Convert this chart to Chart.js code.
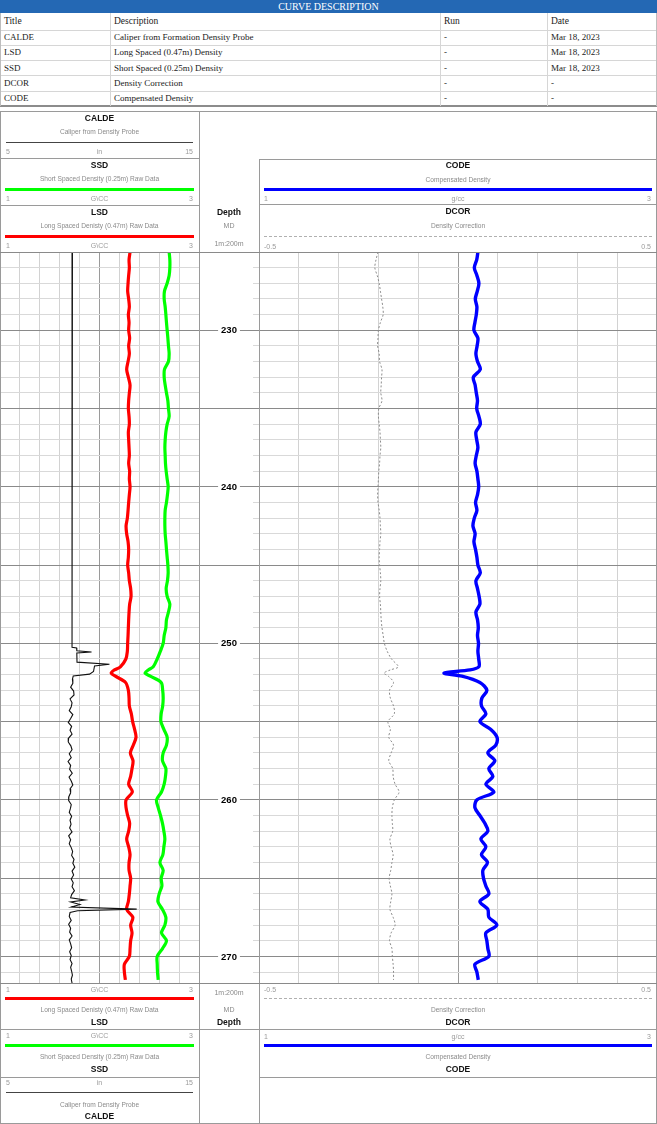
<!DOCTYPE html>
<html>
<head>
<meta charset="utf-8">
<script src="https://cdn.jsdelivr.net/npm/chart.js@4.4.1/dist/chart.umd.min.js"></script>
<style>
  html,body{margin:0;padding:0;background:#fff}
  body{width:657px;height:1124px;position:relative;overflow:hidden;font-family:"Liberation Sans",Arial,sans-serif}
  .a{position:absolute;box-sizing:border-box}
  .t{position:absolute;white-space:nowrap}
  canvas{position:absolute}
</style>
</head>
<body>
<canvas id="cLeft" width="199" height="731" style="left:0;top:252px"></canvas>
<canvas id="cDepth" width="60" height="731" style="left:199px;top:252px"></canvas>
<canvas id="cRight" width="404" height="731" style="left:253px;top:252px"></canvas>
<script>
// ---------------- DATA ----------------
const tableTitles = ["CALDE","LSD","SSD","DCOR","CODE"];
const tableDescriptions = ["Caliper from Formation Density Probe","Long Spaced (0.47m) Density","Short Spaced (0.25m) Density","Density Correction","Compensated Density"];
const tableRuns = ["-","-","-","-","-"];
const tableDates = ["Mar 18, 2023","Mar 18, 2023","Mar 18, 2023","-","-"];

const depthMin = 225, depthMax = 271.7;
const depthLabels = [230,240,250,260,270];

const depth = [225,225.5,226,226.5,227,227.5,228,228.5,229,229.5,
230,230.5,231,231.5,232,232.5,233,233.5,234,234.5,
235,235.5,236,236.5,237,237.5,238,238.5,239,239.5,
240,240.5,241,241.5,242,242.5,243,243.5,244,244.5,
245,245.5,246,246.5,247,247.5,248,248.5,249,249.5,
250,250.5,251,251.5,251.7,251.9,252.1,252.5,253,253.5,254,254.5,
255,255.5,256,256.5,257,257.5,258,258.5,259,259.5,
260,260.5,261,261.5,262,262.5,263,263.5,264,264.5,
265,265.5,266,266.5,267,267.5,268,268.5,269,269.5,
270,270.5,271,271.5];

const lsd = [2.307,2.297,2.300,2.293,2.287,2.283,2.293,2.300,2.290,2.297,
2.293,2.303,2.293,2.300,2.287,2.273,2.290,2.307,2.300,2.293,
2.290,2.297,2.300,2.290,2.293,2.297,2.300,2.293,2.303,2.300,
2.307,2.300,2.293,2.287,2.280,2.267,2.273,2.287,2.293,2.290,
2.283,2.293,2.300,2.313,2.317,2.303,2.297,2.293,2.290,2.287,
2.283,2.280,2.265,2.210,2.150,2.117,2.160,2.262,2.290,2.297,2.300,2.320,
2.333,2.353,2.367,2.340,2.310,2.337,2.327,2.313,2.293,2.330,
2.267,2.267,2.283,2.303,2.293,2.273,2.293,2.307,2.297,2.297,
2.313,2.307,2.300,2.290,2.273,2.335,2.313,2.327,2.313,2.307,
2.300,2.250,2.250,2.260];

const ssd = [2.700,2.707,2.707,2.700,2.680,2.653,2.650,2.660,2.667,2.673,
2.680,2.687,2.693,2.700,2.693,2.653,2.650,2.660,2.673,2.687,
2.693,2.700,2.680,2.667,2.660,2.657,2.660,2.663,2.670,2.680,
2.690,2.683,2.673,2.660,2.657,2.657,2.660,2.667,2.673,2.680,
2.687,2.690,2.683,2.670,2.680,2.707,2.693,2.673,2.667,2.650,
2.640,2.612,2.580,2.540,2.490,2.457,2.510,2.620,2.635,2.640,2.635,2.620,
2.617,2.647,2.680,2.673,2.640,2.633,2.667,2.663,2.650,2.623,
2.573,2.590,2.613,2.633,2.647,2.657,2.647,2.637,2.607,2.640,
2.620,2.627,2.600,2.587,2.633,2.667,2.657,2.623,2.673,2.633,
2.580,2.580,2.583,2.590];

const dcor = [-0.201,-0.206,-0.209,-0.203,-0.198,-0.195,-0.192,-0.189,-0.188,-0.195,
-0.200,-0.201,-0.202,-0.198,-0.197,-0.191,-0.192,-0.193,-0.194,-0.191,
-0.199,-0.200,-0.198,-0.196,-0.195,-0.194,-0.196,-0.197,-0.199,-0.200,
-0.201,-0.202,-0.201,-0.198,-0.196,-0.195,-0.194,-0.196,-0.197,-0.198,
-0.197,-0.195,-0.194,-0.196,-0.197,-0.195,-0.194,-0.193,-0.191,-0.188,
-0.185,-0.178,-0.167,-0.150,-0.170,-0.186,-0.175,-0.162,-0.172,-0.170,-0.162,-0.160,
-0.176,-0.170,-0.174,-0.162,-0.168,-0.174,-0.164,-0.163,-0.158,-0.148,
-0.160,-0.165,-0.166,-0.165,-0.164,-0.171,-0.168,-0.163,-0.166,-0.169,
-0.173,-0.170,-0.166,-0.169,-0.171,-0.163,-0.158,-0.168,-0.172,-0.166,
-0.165,-0.163,-0.162,-0.162];

const code = [2.100,2.094,2.082,2.095,2.105,2.097,2.087,2.095,2.092,2.085,
2.080,2.100,2.096,2.090,2.098,2.112,2.077,2.086,2.092,2.098,
2.094,2.105,2.112,2.090,2.094,2.100,2.092,2.086,2.095,2.100,
2.104,2.098,2.088,2.095,2.082,2.075,2.086,2.080,2.088,2.095,
2.100,2.112,2.090,2.098,2.106,2.110,2.090,2.098,2.102,2.098,
2.103,2.100,2.104,2.105,2.060,1.930,2.020,2.110,2.145,2.120,2.118,2.140,
2.110,2.165,2.196,2.190,2.150,2.185,2.155,2.175,2.140,2.180,
2.095,2.085,2.110,2.135,2.150,2.115,2.140,2.118,2.148,2.125,
2.128,2.140,2.155,2.110,2.150,2.155,2.195,2.140,2.145,2.150,
2.155,2.085,2.095,2.102];

const caldeDepth = [225,225.8,250.25,250.3,250.48,250.55,250.62,251.2,251.34,251.45,251.8,251.97,252.08,
252.3,252.55,252.8,253.05,253.3,253.55,253.8,254.05,254.3,254.55,254.8,
255.05,255.3,255.55,255.8,256.05,256.3,256.55,256.8,257.05,257.3,257.55,257.8,
258.05,258.3,258.55,258.8,259.05,259.3,259.55,259.8,260.05,260.3,260.55,260.8,
261.05,261.3,261.55,261.8,262.05,262.3,262.55,262.8,263.05,263.3,263.55,263.8,
264.05,264.3,264.55,264.8,265.05,265.3,265.55,265.8,266.05,266.25,266.4,266.52,
266.68,266.85,266.98,267.08,267.2,267.45,267.7,267.95,268.2,268.45,268.7,268.95,
269.2,269.45,269.7,269.95,270.2,270.45,270.7,270.95,271.2,271.45,271.7];
const calde = [8.64,8.62,8.62,8.85,8.86,9.60,8.86,8.87,10.50,9.75,9.70,9.50,8.68,
8.64,8.66,8.55,8.70,8.72,8.52,8.62,8.58,8.48,8.66,8.55,
8.43,8.60,8.52,8.62,8.45,8.43,8.56,8.62,8.48,8.58,8.42,8.55,
8.50,8.63,8.47,8.58,8.66,8.52,8.55,8.46,8.45,8.58,8.54,8.48,
8.60,8.52,8.57,8.50,8.62,8.45,8.55,8.48,8.58,8.65,8.60,8.72,
8.66,8.76,8.62,8.70,8.58,8.68,8.62,8.74,8.60,8.55,9.27,8.55,
9.02,8.58,11.87,8.90,8.52,8.48,8.58,8.45,8.55,8.50,8.62,8.48,
8.55,8.60,8.50,8.58,8.52,8.62,8.55,8.60,8.64,8.58,8.62];

// ---------------- HEADER / TABLE ----------------
const B = document.body;
function el(css, html){ const d=document.createElement('div'); d.className='a'; d.style.cssText=css; if(html!==undefined) d.innerHTML=html; B.appendChild(d); return d; }
function hline(x1,x2,y,color,w){ el(`left:${x1}px;top:${y}px;width:${x2-x1}px;height:${w||1}px;background:${color||'#999'}`); }
function vline(x,y1,y2,color,w){ el(`left:${x}px;top:${y1}px;width:${w||1}px;height:${y2-y1}px;background:${color||'#999'}`); }
function dline(x1,x2,y){ el(`left:${x1}px;top:${y}px;width:${x2-x1}px;height:0;border-top:1px dashed #b0b0b0`); }
function txt(s, x, cy, size, opts){
  opts=opts||{};
  const d=document.createElement('div'); d.className='t';
  const lh=Math.round(size*1.3);
  let css=`top:${cy-lh/2}px;line-height:${lh}px;font-size:${size}px;color:${opts.color||'#8a8a8a'};`;
  if(opts.bold) css+='font-weight:bold;';
  if(opts.font) css+=`font-family:${opts.font};`;
  if(opts.align==='left') css+=`left:${x}px;`;
  else if(opts.align==='right') css+=`left:${x-200}px;width:200px;text-align:right;`;
  else css+=`left:${x-150}px;width:300px;text-align:center;`;
  d.style.cssText=css; d.textContent=s; B.appendChild(d);
}

// table
el('left:0;top:0;width:657px;height:13px;background:#2468b4');
txt('CURVE DESCRIPTION', 328.5, 6.8, 10, {color:'#fff', font:'"Liberation Serif",serif'});
const colX=[0,110,440,547], rowTop=[13,29.5,44.8,60.1,75.4,90.7,106];
const serif='"Liberation Serif","Times New Roman",serif';
const header=['Title','Description','Run','Date'];
for(let c=0;c<4;c++) txt(header[c], colX[c]+4, (rowTop[0]+rowTop[1])/2, 9.5, {align:'left',color:'#222',font:serif});
for(let r=0;r<5;r++){
  const cy=(rowTop[r+1]+rowTop[r+2])/2;
  const cells=[tableTitles[r],tableDescriptions[r],tableRuns[r],tableDates[r]];
  for(let c=0;c<4;c++) txt(cells[c], colX[c]+4, cy, 9, {align:'left',color:'#222',font:serif});
}
for(let r=1;r<6;r++) hline(0,657,rowTop[r],'#d6d6d6');
hline(0,657,105,'#8c8c8c',1.5);
for(let c=1;c<4;c++) vline(colX[c],13,106,'#d6d6d6');
vline(0,13,106,'#bdbdbd'); vline(656,13,106,'#bdbdbd');

// log frame
const G='#9a9a9a';
hline(0,657,111,G);
vline(0,111,1124,G); vline(199,111,1124,G); vline(259,159,1124,G); vline(656,111,1124,G);
hline(0,199,158,G); hline(0,199,205,G);
hline(259,657,159,G); hline(259,657,204,G);
hline(0,657,252,'#8a8a8a'); hline(0,657,983,'#8a8a8a');
hline(0,199,1029,G); hline(0,199,1077,G); hline(199,259,1029,G);
hline(259,657,1029,G); hline(259,657,1077,G); hline(0,657,1123,G);

const LC=99.5, DC=229, RC=458;
const titleOpt={bold:true,color:'#111'};
// top left headers
txt('CALDE',LC,118.7,8.5,titleOpt); txt('Caliper from Density Probe',LC,131.7,6.6);
hline(6,193,141.5,'#444',1.5);
txt('5',6,151.7,7,{align:'left',color:'#9a9a9a'}); txt('in',LC,151.7,7,{color:'#9a9a9a'}); txt('15',193,151.7,7,{align:'right',color:'#9a9a9a'});
txt('SSD',LC,165.3,8.5,titleOpt); txt('Short Spaced Density (0.25m) Raw Data',LC,178.7,6.6);
hline(5,194,188,'#00ff00',3);
txt('1',6,198.7,7,{align:'left',color:'#9a9a9a'}); txt('G\\CC',LC,198.7,7,{color:'#9a9a9a'}); txt('3',193,198.7,7,{align:'right',color:'#9a9a9a'});
txt('LSD',LC,212.3,8.5,titleOpt); txt('Long Spaced Denisty (0.47m) Raw Data',LC,225.7,6.6);
hline(5,194,235,'#ff0000',3);
txt('1',6,245.7,7,{align:'left',color:'#9a9a9a'}); txt('G\\CC',LC,245.7,7,{color:'#9a9a9a'}); txt('3',193,245.7,7,{align:'right',color:'#9a9a9a'});
// depth header
txt('Depth',DC,212.3,8.5,titleOpt); txt('MD',DC,225.7,7); txt('1m:200m',DC,243,7);
// right headers
txt('CODE',RC,165,8.5,titleOpt); txt('Compensated Density',RC,179,6.6);
hline(264,652,188,'#0000ff',3);
txt('1',264,198.3,7,{align:'left',color:'#9a9a9a'}); txt('g/cc',RC,198.3,7,{color:'#9a9a9a'}); txt('3',651,198.3,7,{align:'right',color:'#9a9a9a'});
txt('DCOR',RC,211.7,8.5,titleOpt); txt('Density Correction',RC,225.7,6.6);
dline(264,652,235.5);
txt('-0.5',264,246.7,7,{align:'left',color:'#9a9a9a'}); txt('0.5',651,246.7,7,{align:'right',color:'#9a9a9a'});

// bottom left
txt('1',6,989,7,{align:'left',color:'#9a9a9a'}); txt('G\\CC',LC,989,7,{color:'#9a9a9a'}); txt('3',193,989,7,{align:'right',color:'#9a9a9a'});
hline(5,194,996.5,'#ff0000',3);
txt('Long Spaced Denisty (0.47m) Raw Data',LC,1009.3,6.6); txt('LSD',LC,1022.7,8.5,titleOpt);
txt('1',6,1035.3,7,{align:'left',color:'#9a9a9a'}); txt('G\\CC',LC,1035.3,7,{color:'#9a9a9a'}); txt('3',193,1035.3,7,{align:'right',color:'#9a9a9a'});
hline(5,194,1043.8,'#00ff00',3);
txt('Short Spaced Density (0.25m) Raw Data',LC,1056.7,6.6); txt('SSD',LC,1069.3,8.5,titleOpt);
txt('5',6,1082.7,7,{align:'left',color:'#9a9a9a'}); txt('in',LC,1082.7,7,{color:'#9a9a9a'}); txt('15',193,1082.7,7,{align:'right',color:'#9a9a9a'});
hline(6,193,1091.6,'#444',1.5);
txt('Caliper from Density Probe',LC,1104,6.6); txt('CALDE',LC,1116,8.5,titleOpt);
// bottom depth
txt('1m:200m',DC,992,7); txt('MD',DC,1009.3,7); txt('Depth',DC,1022.7,8.5,titleOpt);
// bottom right
txt('-0.5',264,989,7,{align:'left',color:'#9a9a9a'}); txt('0.5',651,989,7,{align:'right',color:'#9a9a9a'});
dline(264,652,998);
txt('Density Correction',RC,1009.3,6.6); txt('DCOR',RC,1022.7,8.5,titleOpt);
txt('1',264,1036,7,{align:'left',color:'#9a9a9a'}); txt('g/cc',RC,1036,7,{color:'#9a9a9a'}); txt('3',651,1036,7,{align:'right',color:'#9a9a9a'});
hline(264,652,1043.8,'#0000ff',3);
txt('Compensated Density',RC,1056.7,6.6); txt('CODE',RC,1069.3,8.5,titleOpt);

// ---------------- CHARTS ----------------
const LIGHT='#d9d9d9', DARK='#8a8a8a';
function depthTicks(scale){ const t=[]; for(let d=Math.ceil(depthMin); d<=Math.floor(depthMax); d++) t.push({value:d}); scale.ticks=t; }
function divTicks(scale){ const t=[]; const mn=scale.options.min, mx=scale.options.max; for(let i=0;i<=10;i++) t.push({value:mn+(mx-mn)*i/10}); scale.ticks=t; }
const yGridColor = c => (c.tick && Math.round(c.tick.value)%5===0) ? DARK : LIGHT;
const xGridColor = c => (c.index===5 ? '#9a9a9a' : (c.index===0||c.index===10 ? 'rgba(0,0,0,0)' : '#d2d2d2'));
function pts(ys, xs){ return ys.map((d,i)=>({x:xs[i], y:d})); }
const baseOpts = {
  responsive:false, animation:false, devicePixelRatio:1,
  layout:{padding:0},
  plugins:{legend:{display:false}, tooltip:{enabled:false}},
  elements:{point:{radius:0}}
};
function yAxis(extra){ return Object.assign({type:'linear', reverse:true, min:depthMin, max:depthMax, position:'left',
  afterBuildTicks:depthTicks, ticks:{display:false}, border:{display:false},
  grid:{drawTicks:false, color:yGridColor, lineWidth:1}}, extra||{}); }
function xAxis(min,max,show){ return {type:'linear', axis:'x', min, max, position:'bottom', display:show,
  afterBuildTicks:divTicks, ticks:{display:false}, border:{display:false},
  grid:{drawTicks:false, color:xGridColor, lineWidth:1}}; }

new Chart(document.getElementById('cLeft'), {
  type:'scatter',
  data:{datasets:[
    {label:'CALDE', data:pts(caldeDepth,calde), xAxisID:'xCal', showLine:true, borderColor:'#111', borderWidth:1.1, tension:0},
    {label:'LSD', data:pts(depth,lsd), xAxisID:'xDen', showLine:true, borderColor:'#ff0000', borderWidth:3.2, tension:0.3},
    {label:'SSD', data:pts(depth,ssd), xAxisID:'xDen', showLine:true, borderColor:'#00ff00', borderWidth:3.2, tension:0.3}
  ]},
  options:Object.assign({}, baseOpts, {scales:{
    xDen:xAxis(1,3,true), xCal:xAxis(5,15,false), y:yAxis()
  }})
});

new Chart(document.getElementById('cDepth'), {
  type:'scatter',
  data:{datasets:[{data:[]}]},
  options:Object.assign({}, baseOpts, {scales:{
    x:{type:'linear',min:0,max:1,display:false},
    y:yAxis({grid:{drawTicks:false, lineWidth:1, color:c=>(c.tick && Math.round(c.tick.value)%5===0)?DARK:'rgba(0,0,0,0)'}})
  }}),
  plugins:[{id:'depthLabels', afterDraw(chart){
    const y=chart.scales.y, ctx=chart.ctx, cx=chart.width/2;
    ctx.save(); ctx.font='bold 9.5px "Liberation Sans", Arial, sans-serif'; ctx.textAlign='center'; ctx.textBaseline='middle';
    depthLabels.forEach(v=>{ const py=y.getPixelForValue(v); const s=String(v); const w=ctx.measureText(s).width;
      ctx.fillStyle='#fff'; ctx.fillRect(cx-w/2-3, py-6, w+6, 12);
      ctx.fillStyle='#000'; ctx.fillText(s, cx, py+0.5); });
    ctx.restore(); }}]
});

new Chart(document.getElementById('cRight'), {
  type:'scatter',
  data:{datasets:[
    {label:'DCOR', data:pts(depth,dcor), xAxisID:'xDc', showLine:true, borderColor:'#8c8c8c', borderWidth:1, borderDash:[2,2], tension:0.3},
    {label:'CODE', data:pts(depth,code), xAxisID:'xCo', showLine:true, borderColor:'#0000ff', borderWidth:3.4, tension:0.3}
  ]},
  options:Object.assign({}, baseOpts, {scales:{
    xCo:xAxis(1,3,true), xDc:xAxis(-0.5,0.5,false),
    y:yAxis({grid:{drawTicks:true, tickLength:6, color:yGridColor, lineWidth:1}})
  }})
});
</script>
</body>
</html>
